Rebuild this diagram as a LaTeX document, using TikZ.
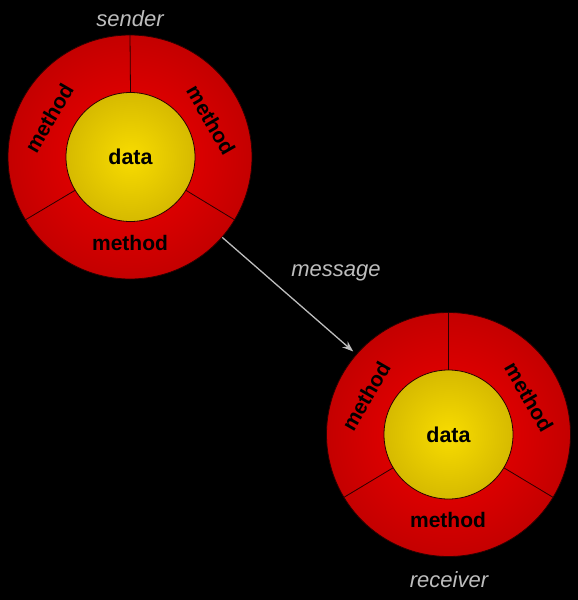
\documentclass[tikz,border=0pt]{standalone}
\usepackage{fontspec}
\setmainfont{Liberation Sans}
\usetikzlibrary{arrows.meta}
\definecolor{redin}{HTML}{F40000}
\definecolor{redout}{HTML}{C40000}
\definecolor{yelin}{HTML}{F8DC00}
\definecolor{yelout}{HTML}{D6BA00}
\definecolor{edge}{HTML}{2A0000}
\definecolor{capgray}{HTML}{BDBDBD}
\tikzset{
  ring/.style={circle, minimum size=244pt, inner sep=0pt, draw=edge, line width=0.8pt,
    inner color=redin, outer color=redout},
  core/.style={circle, minimum size=129pt, inner sep=0pt, draw=edge, line width=0.8pt,
    inner color=yelin, outer color=yelout, font=\fontsize{21.5}{25}\selectfont\bfseries},
  meth/.style={font=\fontsize{21}{24}\selectfont\bfseries, text=black, inner sep=0pt},
  divider/.style={draw=edge, line width=0.8pt},
  caption/.style={font=\fontsize{22}{26}\selectfont\itshape, text=capgray, inner sep=0pt},
  msgarrow/.style={draw=capgray, line width=1.3pt, -{Stealth[length=11pt,width=8pt]}, shorten >=4pt}
}
\begin{document}
\begin{tikzpicture}[x=1pt,y=-1pt]
\fill[black] (0,0) rectangle (578,600);
\useasboundingbox (0,0) rectangle (578,600);

% sender
\node[ring] (sender) at (130,157) {};
\node[core] (senderdata) at (130.5,157) {data};
\draw[divider] (senderdata.90) -- (sender.90);
\draw[divider] (senderdata.211) -- (sender.211);
\draw[divider] (senderdata.329) -- (sender.329);
\node[meth, rotate=60] (sml) at (49,118) {method};
\node[meth, rotate=-60] (smr) at (211,120) {method};
\node[meth] (smb) at (130,243) {method};
\node[caption] (senderlbl) at (130,19) {sender};

% receiver
\node[ring] (receiver) at (448.5,434.5) {};
\node[core] (receiverdata) at (448.5,434.5) {data};
\draw[divider] (receiverdata.90) -- (receiver.90);
\draw[divider] (receiverdata.211) -- (receiver.211);
\draw[divider] (receiverdata.329) -- (receiver.329);
\node[meth, rotate=60] (rml) at (366,396) {method};
\node[meth, rotate=-60] (rmr) at (529,397) {method};
\node[meth] (rmb) at (448,520) {method};
\node[caption] (receiverlbl) at (449,580) {receiver};

% message
\draw[msgarrow] (sender) -- (receiver);
\node[caption] (msg) at (336,273) {message};
\end{tikzpicture}
\end{document}
